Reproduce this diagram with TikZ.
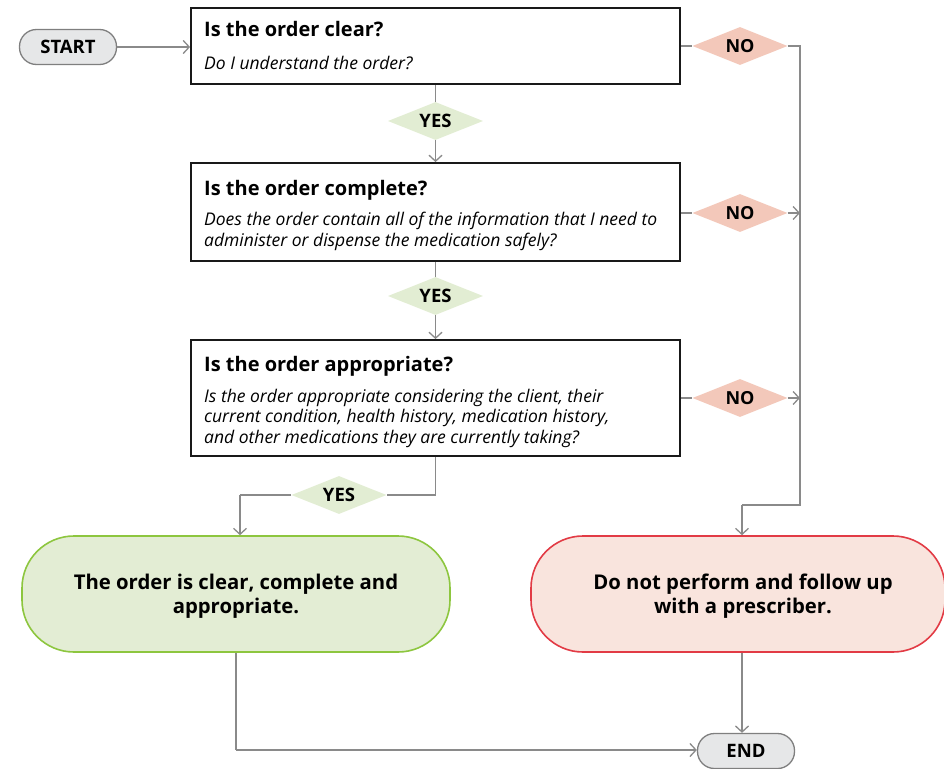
\documentclass[tikz,border=0pt]{standalone}
\usepackage{fontspec}
\setmainfont{Open Sans}
\usetikzlibrary{shapes.geometric,arrows.meta}
\definecolor{linec}{HTML}{8A8A8A}
\definecolor{yesfill}{HTML}{E2EDD3}
\definecolor{nofill}{HTML}{F3C8BA}
\definecolor{okfill}{HTML}{E3EDD4}
\definecolor{okline}{HTML}{8DC63F}
\definecolor{badfill}{HTML}{F9E4DD}
\definecolor{badline}{HTML}{E23B45}
\definecolor{termfill}{HTML}{E6E7E8}
\definecolor{termline}{HTML}{7F7F7F}
\tikzset{
  qbox/.style={draw=black!90, line width=1.8pt, minimum width=489pt, inner sep=0pt},
  title/.style={anchor=base west, inner sep=0pt, font=\fontsize{20}{24}\selectfont\bfseries},
  sub/.style={anchor=base west, inner sep=0pt, align=left, font=\fontsize{17.5}{20.5}\selectfont\itshape},
  yesd/.style={diamond, fill=yesfill, minimum width=95pt, minimum height=38pt, inner sep=0pt, aspect=2.5, font=\fontsize{18.5}{20}\selectfont\bfseries},
  nod/.style={diamond, fill=nofill, minimum width=95pt, minimum height=38pt, inner sep=0pt, aspect=2.5, font=\fontsize{18}{20}\selectfont\bfseries},
  term/.style={draw=termline, fill=termfill, line width=1.3pt, rounded corners=17pt, minimum width=97pt, minimum height=35pt, inner sep=0pt, font=\fontsize{18.5}{20}\selectfont\bfseries},
  pill/.style={line width=1.6pt, rounded corners=52pt, minimum height=116pt, inner sep=0pt},
  pilltext/.style={anchor=base, inner sep=0pt, align=center, font=\fontsize{20.3}{23.5}\selectfont\bfseries},
  conn/.style={draw=linec, line width=1.3pt},
  arr/.style={conn, -{Straight Barb[length=6pt,width=13pt,line width=1.3pt]}},
}
\begin{document}
\begin{tikzpicture}[x=1pt,y=-1pt]
\useasboundingbox (0,0) rectangle (944,768);
% terminals
\node[term] (start) at (68,47) {START};
\node[term] (end) at (746,751) {END};
% question boxes
\node[qbox, minimum height=76pt] (q1) at (435.5,46) {};
\node[qbox, minimum height=98pt] (q2) at (435.5,212) {};
\node[qbox, minimum height=116pt] (q3) at (435.5,398) {};
\node[title] (t1) at (204,37) {Is the order clear?};
\node[sub] (s1) at (204,70) {Do I understand the order?};
\node[title] (t2) at (204,195) {Is the order complete?};
\node[sub] (s2) at (204,246) {Does the order contain all of the information that I need to\\administer or dispense the medication safely?};
\node[title] (t3) at (204,371) {Is the order appropriate?};
\node[sub] (s3) at (204,443) {Is the order appropriate considering the client, their\\current condition, health history, medication history,\\and other medications they are currently taking?};
% decisions
\node[yesd] (y1) at (435.5,121) {YES};
\node[yesd] (y2) at (435.5,296) {YES};
\node[yesd] (y3) at (339,495) {YES};
\node[nod] (n1) at (740,46) {NO};
\node[nod] (n2) at (740,213) {NO};
\node[nod] (n3) at (740,398) {NO};
% outcomes
\node[pill, draw=okline, fill=okfill, minimum width=428pt] (ok) at (236,594) {};
\node[pilltext] (okt) at (236,613) {The order is clear, complete and\\appropriate.};
\node[pill, draw=badline, fill=badfill, minimum width=414pt] (bad) at (738,594) {};
\node[pilltext] (badt) at (743,613) {Do not perform and follow up\\with a prescriber.};
% coordinates
\coordinate (rtop) at (800,46);
\coordinate (rbot) at (800,505);
\coordinate (rturn) at (742,505);
\coordinate (j2) at (800,213);
\coordinate (j3) at (800,398);
\coordinate (yturn) at (435.5,495);
\coordinate (gturn) at (240,495);
\coordinate (bturn) at (236,750);
% connectors
\draw[arr] (start) -- (q1.west |- start);
\draw[conn] (q1.south) -- (y1.north);
\draw[arr] (y1.south) -- (q2.north);
\draw[conn] (q2.south) -- (y2.north);
\draw[arr] (y2.south) -- (q3.north);
\draw[conn] (q1.east |- n1) -- (n1.west);
\draw[conn] (q2.east |- n2) -- (n2.west);
\draw[conn] (q3.east |- n3) -- (n3.west);
\draw[conn] (n1.east) -- (rtop) -- (rbot) -- (rturn);
\draw[arr] (rturn) -- (rturn |- bad.north);
\draw[arr] (n2.east) -- (j2);
\draw[arr] (n3.east) -- (j3);
\draw[conn] (q3.south) -- (yturn) -- (y3.east);
\draw[conn] (y3.west) -- (gturn);
\draw[arr] (gturn) -- (gturn |- ok.north);
\draw[conn] (ok.south) -- (bturn);
\draw[arr] (bturn) -- (end.west |- bturn);
\draw[arr] (bad.south -| rturn) -- (end.north -| rturn);
\end{tikzpicture}
\end{document}
